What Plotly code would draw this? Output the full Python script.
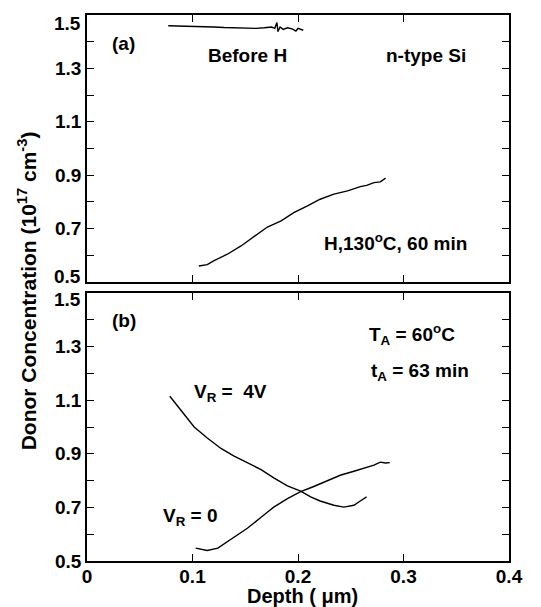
import plotly.graph_objects as go
from plotly.subplots import make_subplots

# Panel (a)
before_x = [0.077, 0.090, 0.100, 0.110, 0.120, 0.130, 0.140, 0.150, 0.160, 0.168, 0.175, 0.178, 0.180, 0.181, 0.183, 0.186, 0.190, 0.195, 0.198, 0.200, 0.205]
before_y = [1.460, 1.459, 1.458, 1.456, 1.455, 1.453, 1.452, 1.451, 1.450, 1.452, 1.455, 1.450, 1.472, 1.438, 1.455, 1.446, 1.452, 1.447, 1.440, 1.450, 1.443]

h_x = [0.106, 0.114, 0.120, 0.133, 0.146, 0.158, 0.171, 0.184, 0.196, 0.209, 0.221, 0.234, 0.247, 0.259, 0.265, 0.272, 0.278, 0.283]
h_y = [0.560, 0.565, 0.579, 0.604, 0.635, 0.670, 0.706, 0.729, 0.760, 0.785, 0.810, 0.829, 0.841, 0.857, 0.862, 0.872, 0.875, 0.889]

# Panel (b)
vr4_x = [0.0785, 0.089, 0.1016, 0.114, 0.127, 0.139, 0.152, 0.165, 0.177, 0.190, 0.2025, 0.212, 0.221, 0.234, 0.2435, 0.253, 0.259, 0.265]
vr4_y = [1.115, 1.064, 1.000, 0.959, 0.920, 0.892, 0.867, 0.841, 0.810, 0.780, 0.761, 0.739, 0.724, 0.708, 0.701, 0.708, 0.724, 0.739]

vr0_x = [0.103, 0.114, 0.124, 0.139, 0.152, 0.165, 0.177, 0.190, 0.2025, 0.215, 0.228, 0.240, 0.253, 0.266, 0.272, 0.278, 0.283, 0.287]
vr0_y = [0.548, 0.539, 0.548, 0.587, 0.622, 0.663, 0.701, 0.733, 0.759, 0.778, 0.801, 0.820, 0.835, 0.852, 0.858, 0.869, 0.866, 0.867]

x_ticks = [0, 0.1, 0.2, 0.3, 0.4]
x_labels = ["0", "0.1", "0.2", "0.3", "0.4"]
y_ticks = [0.5, 0.6, 0.7, 0.8, 0.9, 1.0, 1.1, 1.2, 1.3, 1.4, 1.5]
y_labels = ["", "", "0.7", "", "0.9", "", "1.1", "", "1.3", "", ""]
y_labels_bottom = ["0.5", "", "0.7", "", "0.9", "", "1.1", "", "1.3", "", ""]

FONT = "Liberation Sans, Arial, Helvetica, sans-serif"
FS = 19
fig = make_subplots(rows=2, cols=1, shared_xaxes=False)

line = dict(color="black", width=1.4)
fig.add_trace(go.Scatter(x=before_x, y=before_y, mode="lines", line=line), row=1, col=1)
fig.add_trace(go.Scatter(x=h_x, y=h_y, mode="lines", line=line), row=1, col=1)
fig.add_trace(go.Scatter(x=vr4_x, y=vr4_y, mode="lines", line=line), row=2, col=1)
fig.add_trace(go.Scatter(x=vr0_x, y=vr0_y, mode="lines", line=line), row=2, col=1)

axis_common = dict(showline=True, linecolor="black", linewidth=1.6, mirror="ticks",
                   ticks="inside", ticklen=7, tickwidth=1.2, tickcolor="black",
                   showgrid=False, zeroline=False,
                   tickfont=dict(family=FONT, size=FS, color="black", weight="bold"))

fig.update_xaxes(range=[0, 0.4], tickvals=x_ticks, ticktext=x_labels, **axis_common)
fig.update_xaxes(showticklabels=False, row=1, col=1)
fig.update_xaxes(ticklabelstandoff=-3, row=2, col=1)
fig.update_yaxes(range=[0.5, 1.5], tickvals=y_ticks, **axis_common)
fig.update_yaxes(ticktext=y_labels, row=1, col=1)
fig.update_yaxes(ticktext=y_labels_bottom, row=2, col=1)

fig.update_layout(
    width=541, height=607,
    margin=dict(l=87, r=32, t=15, b=46),
    paper_bgcolor="white", plot_bgcolor="white",
    showlegend=False,
    font=dict(family=FONT, size=FS, color="black"),
)
fig.update_layout(yaxis=dict(domain=[0.511, 1.0]), yaxis2=dict(domain=[0.0, 0.4908]))

def ann(text, x, y, xref, yref, size=FS, **kw):
    fig.add_annotation(text="<b>" + text + "</b>", x=x, y=y, xref=xref, yref=yref,
                       showarrow=False, font=dict(family=FONT, size=size, color="black"), **kw)

# end tick labels shifted inward as in the reference
ann("1.5", 0, 1.5, "paper", "y", xanchor="right", xshift=-4, yshift=-8)
ann("0.5", 0, 0.5, "paper", "y", xanchor="right", xshift=-4, yshift=5)
ann("1.5", 0, 1.5, "paper", "y2", xanchor="right", xshift=-4, yshift=-6)

ann("(a)", 0.035, 1.394, "x", "y")
ann("Before H", 0.152, 1.35, "x", "y")
ann("n-type Si", 0.321, 1.348, "x", "y")
ann("H,130<sup>o</sup>C, 60 min", 0.292, 0.65, "x", "y")

ann("(b)", 0.035, 1.396, "x2", "y2")
ann("T<sub>A</sub> = 60<sup>o</sup>C", 0.308, 1.345, "x2", "y2")
ann("t<sub>A</sub> = 63 min", 0.316, 1.204, "x2", "y2")
ann("V<sub>R</sub> =  4V", 0.136, 1.128, "x2", "y2")
ann("V<sub>R</sub> = 0", 0.098, 0.663, "x2", "y2")

ann("Depth ( μm)", 0.204, -0.0403, "x2", "paper", size=20, yanchor="top")
ann("Donor Concentration (10<sup>17</sup> cm<sup>-3</sup>)", -0.142, 0.494, "paper", "paper", size=21,
    textangle=-90, xanchor="center", yanchor="middle")

# remove the page's default 8px body margin so the figure fills the window exactly
fig.write_html("out.html", config={"displayModeBar": False},
               post_script="document.body.style.margin='0';")
